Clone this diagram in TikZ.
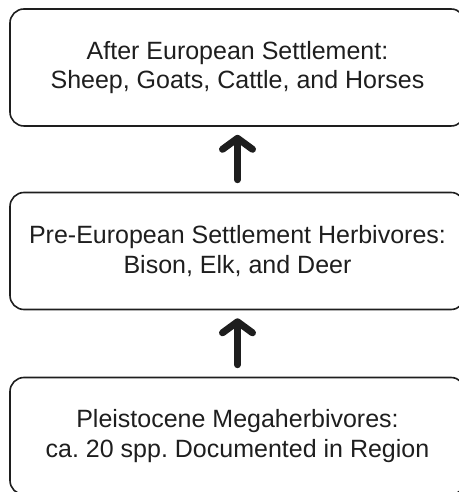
\documentclass[tikz,border=0pt]{standalone}
\usepackage{fontspec}
\setmainfont{Liberation Sans}
\frenchspacing
\usetikzlibrary{arrows.meta}
\definecolor{ink}{HTML}{1E1E1E}
\tikzset{
  stagebox/.style={draw=ink, line width=1.6pt, rounded corners=14pt,
    minimum width=455pt, minimum height=117pt, align=center,
    text=ink, font=\fontsize{25}{29.5}\selectfont, inner sep=0pt},
  uparrow/.style={draw=ink, line width=7pt, line cap=round,
    -{Straight Barb[round, length=11pt, width=30pt]},
    shorten <=12pt, shorten >=8pt}
}
\begin{document}
\begin{tikzpicture}[x=1pt,y=1pt]
\useasboundingbox (0,0) rectangle (458,492);
\node[stagebox] (after) at (237.5,424.5) {After European Settlement:\\Sheep, Goats, Cattle, and Horses};
\node[stagebox] (pre) at (237.5,241) {Pre-European Settlement Herbivores:\\Bison, Elk, and Deer};
\node[stagebox] (pleis) at (237.5,56) {Pleistocene Megaherbivores:\\ca. 20 spp. Documented in Region};
\draw[uparrow] (pre.north) -- (after.south);
\draw[uparrow] (pleis.north) -- (pre.south);
\end{tikzpicture}
\end{document}
